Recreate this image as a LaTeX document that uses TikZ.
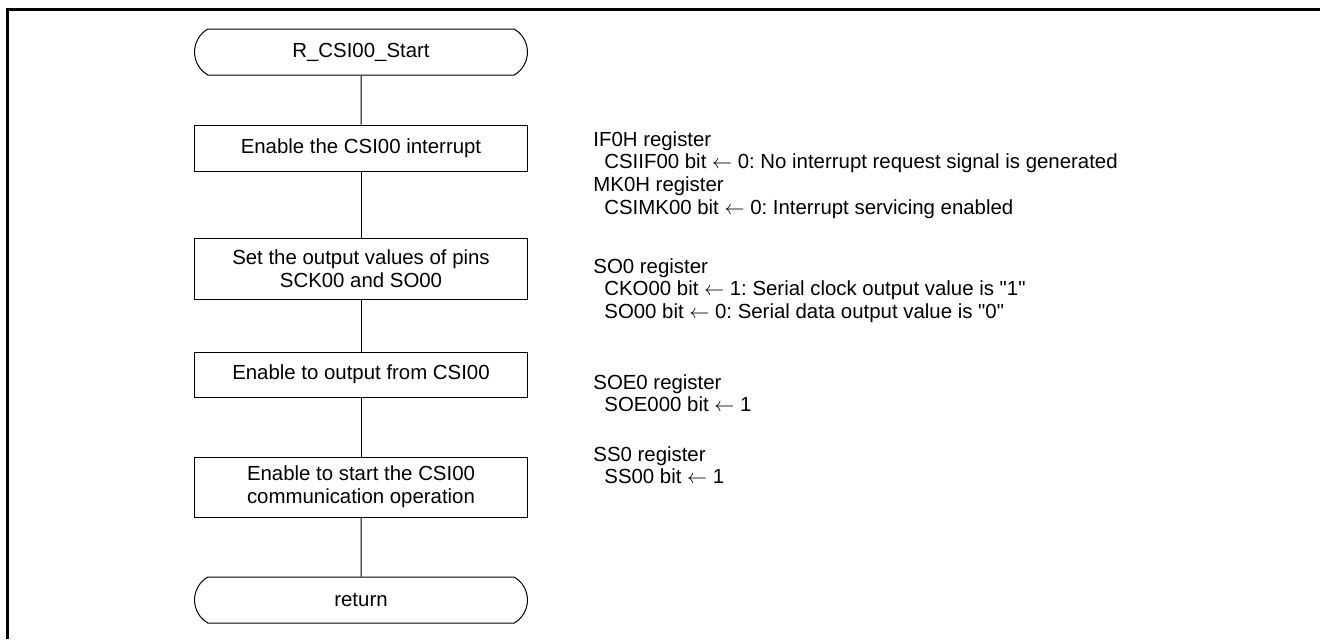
\documentclass[tikz,border=0pt]{standalone}
\usepackage{fontspec}
\setmainfont{Liberation Sans}[Ligatures=TeXOff]
\usetikzlibrary{shapes.misc}
\frenchspacing

\newcommand{\ind}{\hspace*{5.5pt}}

\tikzset{
  term/.style={draw, line width=0.5pt, rounded rectangle, rounded rectangle arc length=120,
    minimum width=166.5pt, minimum height=23pt, inner sep=0pt},
  procbox/.style={draw, line width=0.5pt, rectangle, align=center,
    minimum width=166.5pt, inner sep=0pt},
  regnote/.style={anchor=north west, align=left, inner sep=0pt},
  flow/.style={line width=0.5pt},
}

\begin{document}
\begin{tikzpicture}[x=0.5pt,y=-0.5pt,
    every node/.append style={font=\fontsize{10.2}{11.4}\selectfont}]
  \useasboundingbox (0,0) rectangle (1320,639);
  % outer frame (left and top only)
  \draw[line width=1.5pt] (7.5,639) -- (7.5,9.5) -- (1320,9.5);

  % flow chart
  \node[term] (start) at (361,52) {R\_CSI00\_Start};
  \node[procbox, minimum height=23pt] (intr) at (361,148) {Enable the CSI00 interrupt};
  \node[procbox, minimum height=30.5pt] (pins) at (361,268.5) {Set the output values of pins\\SCK00 and SO00};
  \node[procbox, minimum height=22.5pt] (outp) at (361,374.5) {Enable to output from CSI00};
  \node[procbox, minimum height=30pt] (comm) at (361,487) {Enable to start the CSI00\\communication operation};
  \node[term] (ret) at (361,600) {return};

  \draw[flow] (start) -- (intr);
  \draw[flow] (intr) -- (pins);
  \draw[flow] (pins) -- (outp);
  \draw[flow] (outp) -- (comm);
  \draw[flow] (comm) -- (ret);

  % register notes
  \node[regnote] (ifreg) at (593,131) {IF0H register\\
    \ind CSIIF00 bit $\leftarrow$ 0: No interrupt request signal is generated\\
    MK0H register\\
    \ind CSIMK00 bit $\leftarrow$ 0: Interrupt servicing enabled};
  \node[regnote] (soreg) at (593,258) {SO0 register\\
    \ind CKO00 bit $\leftarrow$ 1: Serial clock output value is "1"\\
    \ind SO00 bit $\leftarrow$ 0: Serial data output value is "0"};
  \node[regnote] (soereg) at (593,374) {SOE0 register\\
    \ind SOE000 bit $\leftarrow$ 1};
  \node[regnote] (ssreg) at (593,446) {SS0 register\\
    \ind SS00 bit $\leftarrow$ 1};
\end{tikzpicture}
\end{document}
